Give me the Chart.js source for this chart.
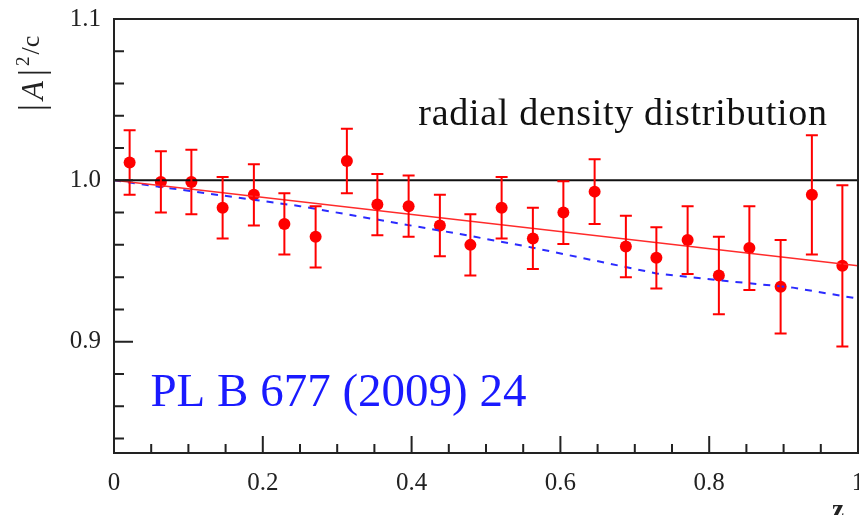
<!DOCTYPE html>
<html>
<head>
<meta charset="utf-8">
<script src="https://cdn.jsdelivr.net/npm/chart.js@4/dist/chart.umd.min.js"></script>
<style>
  html, body { margin: 0; padding: 0; background: #fff; }
  #wrap { width: 859px; height: 515px; }
</style>
</head>
<body>
<div id="wrap"><canvas id="ratio-chart" width="859" height="515"></canvas></div>
<script>
// measured bins (z) with ratio |A|^2/c and its error
const zBins = [0.021, 0.063, 0.104, 0.146, 0.188, 0.229, 0.271, 0.313, 0.354, 0.396, 0.438, 0.479,
               0.521, 0.563, 0.604, 0.646, 0.688, 0.729, 0.771, 0.813, 0.854, 0.896, 0.938, 0.979];
const ratio = [1.011, 0.999, 0.999, 0.983, 0.991, 0.973, 0.965, 1.012, 0.985, 0.984, 0.972, 0.960,
               0.983, 0.964, 0.980, 0.993, 0.959, 0.952, 0.963, 0.941, 0.958, 0.934, 0.991, 0.947];
const ratioErr = [0.020, 0.019, 0.020, 0.019, 0.019, 0.019, 0.019, 0.020, 0.019, 0.019, 0.019, 0.019,
                  0.019, 0.019, 0.0195, 0.020, 0.019, 0.019, 0.021, 0.024, 0.026, 0.029, 0.037, 0.050];

// straight fit (red) and model curve (blue dashed)
const fitZ = [0, 1];
const fitRatio = [1.0, 0.947];
const modelZ = [0, 0.1, 0.25, 0.465, 0.5615, 0.729, 0.8145, 0.9126, 1.0];
const modelRatio = [1.0, 0.9935, 0.984, 0.9667, 0.9584, 0.9423, 0.938, 0.9335, 0.9267];

// reference line
const unityZ = [0, 1];
const unityRatio = [1.0, 1.0];

// axis ticks
const xMajor = [0, 0.2, 0.4, 0.6, 0.8, 1];
const yMajor = [0.9, 1.0, 1.1];
const xMinorStep = 0.05;
const yMinorStep = 0.02;

const serif = "'Liberation Serif', 'DejaVu Serif', serif";

function toPoints(xs, ys) {
    return xs.map((x, i) => ({ x: x, y: ys[i] }));
}

// pin the plot frame, the frame runs to the right edge of the canvas like the original
const fixedArea = {
    id: "fixedArea",
    afterLayout(chart) {
        const area = { left: 114, top: 19, right: 858, bottom: 453 };
        const { x, y } = chart.scales;
        Object.assign(chart.chartArea, area, { width: area.right - area.left, height: area.bottom - area.top });
        x.left = area.left; x.right = area.right; x.width = area.right - area.left;
        x.top = area.bottom; x.bottom = chart.height; x.height = x.bottom - x.top;
        y.top = area.top; y.bottom = area.bottom; y.height = area.bottom - area.top;
        y.left = 0; y.right = area.left; y.width = area.left;
        x.configure();
        y.configure();
    }
};

const errorBars = {
    id: "errorBars",
    afterDatasetsDraw(chart) {
        const { ctx, scales: { x, y } } = chart;
        ctx.save();
        ctx.strokeStyle = "#ff0000";
        ctx.lineWidth = 2;
        zBins.forEach((z, i) => {
            const px = x.getPixelForValue(z);
            const top = y.getPixelForValue(ratio[i] + ratioErr[i]);
            const bot = y.getPixelForValue(ratio[i] - ratioErr[i]);
            ctx.beginPath();
            ctx.moveTo(px, top); ctx.lineTo(px, bot);
            ctx.moveTo(px - 6, top); ctx.lineTo(px + 6, top);
            ctx.moveTo(px - 6, bot); ctx.lineTo(px + 6, bot);
            ctx.stroke();
        });
        ctx.restore();
    }
};

const frameAndText = {
    id: "frameAndText",
    afterDraw(chart) {
        const { ctx, chartArea: a, scales: { x, y } } = chart;
        ctx.save();
        ctx.strokeStyle = "#222";
        ctx.lineWidth = 2;
        ctx.strokeRect(a.left, a.top, a.right - a.left, a.bottom - a.top);

        // ticks pointing inward
        ctx.beginPath();
        for (let v = x.min; v <= x.max + 1e-9; v += xMinorStep) {
            const px = x.getPixelForValue(v);
            const major = xMajor.some(m => Math.abs(m - v) < 1e-6);
            ctx.moveTo(px, a.bottom);
            ctx.lineTo(px, a.bottom - (major ? 17 : 9));
        }
        const yStart = Math.ceil(y.min / yMinorStep - 1e-6) * yMinorStep;
        for (let v = yStart; v <= y.max + 1e-9; v += yMinorStep) {
            const py = y.getPixelForValue(v);
            const major = yMajor.some(m => Math.abs(m - v) < 1e-6);
            ctx.moveTo(a.left, py);
            ctx.lineTo(a.left + (major ? 19 : 10), py);
        }
        ctx.stroke();

        // annotations
        ctx.fillStyle = "#111";
        ctx.textBaseline = "alphabetic";
        ctx.textAlign = "left";
        ctx.font = "38px " + serif;
        ctx.letterSpacing = "0.7px";
        ctx.fillText("radial density distribution", x.getPixelForValue(0.409), y.getPixelForValue(1.0344));
        ctx.letterSpacing = "0px";

        ctx.fillStyle = "#1a1aff";
        ctx.font = "47px " + serif;
        ctx.fillText("PL B 677 (2009) 24", x.getPixelForValue(0.049), y.getPixelForValue(0.86));

        // axis title |A|^2/c, rotated
        ctx.fillStyle = "#222";
        ctx.translate(43, 111);
        ctx.rotate(-Math.PI / 2);
        let cx = 0;
        const parts = [
            { t: "|", f: "35px " + serif, dy: 0, gap: 4 },
            { t: "A", f: "italic 31px " + serif, dy: 0, gap: 5 },
            { t: "|", f: "35px " + serif, dy: 0, gap: 3 },
            { t: "2", f: "19px " + serif, dy: -14, gap: 2 },
            { t: "/c", f: "26px " + serif, dy: -4, gap: 0 }
        ];
        parts.forEach(p => {
            ctx.font = p.f;
            ctx.fillText(p.t, cx, p.dy);
            cx += ctx.measureText(p.t).width + p.gap;
        });
        ctx.restore();

        // z label under the axis, cut by the canvas edge as in the original
        ctx.save();
        ctx.fillStyle = "#222";
        ctx.font = "bold 27px " + serif;
        ctx.textAlign = "center";
        ctx.fillText("z", 838, 518);
        ctx.restore();
    }
};

const ctx = document.getElementById("ratio-chart").getContext("2d");
const ratioChart = new Chart(ctx, {
    type: "scatter",
    data: {
        datasets: [
            {
                data: toPoints(unityZ, unityRatio),
                showLine: true,
                borderColor: "#111",
                borderWidth: 2,
                pointRadius: 0
            },
            {
                data: toPoints(fitZ, fitRatio),
                showLine: true,
                borderColor: "#ff2b2b",
                borderWidth: 1.5,
                pointRadius: 0
            },
            {
                data: toPoints(modelZ, modelRatio),
                showLine: true,
                borderColor: "#2b2bff",
                borderWidth: 2,
                borderDash: [7, 7],
                pointRadius: 0
            },
            {
                data: toPoints(zBins, ratio),
                backgroundColor: "#ff0000",
                borderColor: "#ff0000",
                pointRadius: 6,
                borderWidth: 0
            }
        ]
    },
    options: {
        responsive: false,
        animation: false,
        plugins: {
            legend: { display: false },
            tooltip: { enabled: false }
        },
        scales: {
            x: {
                type: "linear",
                min: 0,
                max: 1,
                grid: { display: false, drawTicks: false },
                border: { display: false },
                afterBuildTicks: s => { s.ticks = xMajor.map(v => ({ value: v })); },
                ticks: {
                    padding: 15,
                    color: "#222",
                    maxRotation: 0,
                    font: { family: serif, size: 25 },
                    callback: v => (v === 0 || v === 1) ? String(v) : v.toFixed(1)
                }
            },
            y: {
                type: "linear",
                min: 0.831,
                max: 1.1,
                grid: { display: false, drawTicks: false },
                border: { display: false },
                afterBuildTicks: s => { s.ticks = yMajor.map(v => ({ value: v })); },
                ticks: {
                    padding: 13,
                    color: "#222",
                    font: { family: serif, size: 25 },
                    callback: v => v.toFixed(1)
                }
            }
        }
    },
    plugins: [fixedArea, errorBars, frameAndText]
});
</script>
</body>
</html>
